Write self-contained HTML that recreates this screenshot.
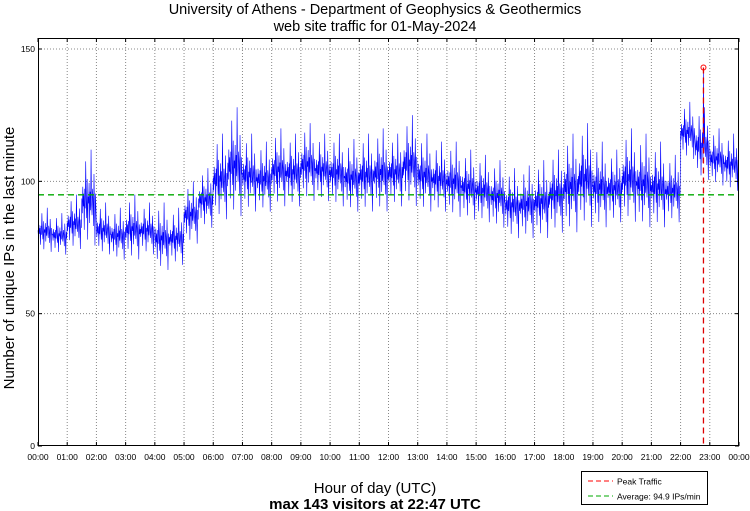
<!DOCTYPE html>
<html><head><meta charset="utf-8"><style>
body{margin:0;background:#fff;}
svg{display:block;font-family:"Liberation Sans",sans-serif;}
</style></head><body>
<svg id="chart" width="750" height="511">
<text x="375" y="14" text-anchor="middle" font-size="14.5">University of Athens - Department of Geophysics &amp; Geothermics</text>
<text x="375" y="31" text-anchor="middle" font-size="14.5">web site traffic for 01-May-2024</text>
<text transform="translate(14,258) rotate(-90)" text-anchor="middle" font-size="15">Number of unique IPs in the last minute</text>
<text x="375" y="493" text-anchor="middle" font-size="15">Hour of day (UTC)</text>
<text x="375" y="509" text-anchor="middle" font-size="15" font-weight="bold">max 143 visitors at 22:47 UTC</text>
<g id="grid"></g><g id="series"></g><g id="overlay"></g><g id="axes"></g>
<g>
<rect x="581.5" y="471.5" width="126" height="33" fill="#fff" stroke="#000" stroke-width="1"/>
<line x1="588" y1="481" x2="613" y2="481" stroke="#ff0000" stroke-dasharray="5,3"/>
<text x="617" y="484.5" font-size="8.5">Peak Traffic</text>
<line x1="588" y1="496" x2="613" y2="496" stroke="#00aa00" stroke-dasharray="5,3"/>
<text x="617" y="499.5" font-size="8.5">Average: 94.9 IPs/min</text>
</g>
</svg>
<script>
const hourLabels=["00:00","01:00","02:00","03:00","04:00","05:00","06:00","07:00","08:00","09:00","10:00","11:00","12:00","13:00","14:00","15:00","16:00","17:00","18:00","19:00","20:00","21:00","22:00","23:00","00:00"];
const yTicks=[0,50,100,150];
const binLow=[73,72,74,75,72,70,70,72,66,68,76,82,85,86,88,88,90,90,92,92,90,88,88,88,90,90,88,88,86,85,84,82,78,78,78,80,80,82,82,84,84,82,82,84,108,100,98,96];
const binHigh=[90,88,95,112,92,90,95,92,92,90,100,105,118,128,118,115,120,118,122,118,118,116,118,120,118,125,118,115,115,112,110,108,105,106,108,112,118,122,115,112,120,118,115,110,130,128,120,118];
const pattern=[0.5,0.35,0.62,0.42,0.55,0.18,0.6,0.4,0.88,0.48,0.3,0.7,0.08,0.52,0.45,0.66,0.25,0.57,0.38,1,0.46,0.33,0.6,0.5,0.22,0.75,0.43,0.02,0.55,0.4];
const peakValue=143, peakMinute=1367, averageValue=94.9;
const NS="http://www.w3.org/2000/svg";
const L=38,R=739,T=38,B=446;
const xs=m=>L+(R-L)*m/1440;
const ys=v=>446-v*(446-49)/150;
function mk(t,a,p){const e=document.createElementNS(NS,t);for(const k in a)e.setAttribute(k,a[k]);p.appendChild(e);return e;}
const grid=document.getElementById('grid'),axes=document.getElementById('axes'),ser=document.getElementById('series'),ov=document.getElementById('overlay');
hourLabels.forEach((lab,i)=>{const x=xs(i*60);
 if(i>0&&i<24){const g=mk('line',{x1:x,x2:x,y1:T,y2:B,stroke:'#888','stroke-dasharray':'1,2','stroke-width':1},grid);
 
 }
 mk('line',{x1:x,x2:x,y1:B,y2:B-4,stroke:'#000'},axes);mk('line',{x1:x,x2:x,y1:T,y2:T+4,stroke:'#000'},axes);
 const t=mk('text',{x:x,y:B+14,'text-anchor':'middle','font-size':'8.5'},axes);t.textContent=lab;
 
 
});
yTicks.forEach(v=>{const y=ys(v);
 if(v>0){const g=mk('line',{x1:L,x2:R,y1:y,y2:y,stroke:'#888','stroke-dasharray':'1,2'},grid);
 
 }
 mk('line',{x1:L,x2:L+4,y1:y,y2:y,stroke:'#000'},axes);mk('line',{x1:R,x2:R-4,y1:y,y2:y,stroke:'#000'},axes);
 const t=mk('text',{x:L-3,y:y+3,'text-anchor':'end','font-size':'8.5'},axes);t.textContent=v;
 
 
});
const frame=mk('rect',{x:L+0.5,y:T+0.5,width:R-L-1,height:B-T-1,fill:'none',stroke:'#000'},axes);


let pts=[];
for(let m=0;m<1440;m++){const b=Math.floor(m/30);let v=binLow[b]+(binHigh[b]-binLow[b])*pattern[m%pattern.length];
 if(m===peakMinute)v=peakValue;pts.push(xs(m).toFixed(2)+','+ys(v).toFixed(2));}
const line=mk('polyline',{points:pts.join(' '),fill:'none',stroke:'#0000ff','stroke-width':0.6},ser);


const avg=mk('line',{x1:L,x2:R,y1:ys(averageValue),y2:ys(averageValue),stroke:'#00aa00','stroke-width':1.3,'stroke-dasharray':'6,4'},ov);


const pl=mk('line',{x1:xs(peakMinute),x2:xs(peakMinute),y1:ys(peakValue),y2:B,stroke:'#dd0000','stroke-width':1.3,'stroke-dasharray':'6,4'},ov);


const pc=mk('circle',{cx:xs(peakMinute),cy:ys(peakValue),r:2.5,fill:'none',stroke:'#ff0000','stroke-width':1},ov);


</script>
</body></html>
